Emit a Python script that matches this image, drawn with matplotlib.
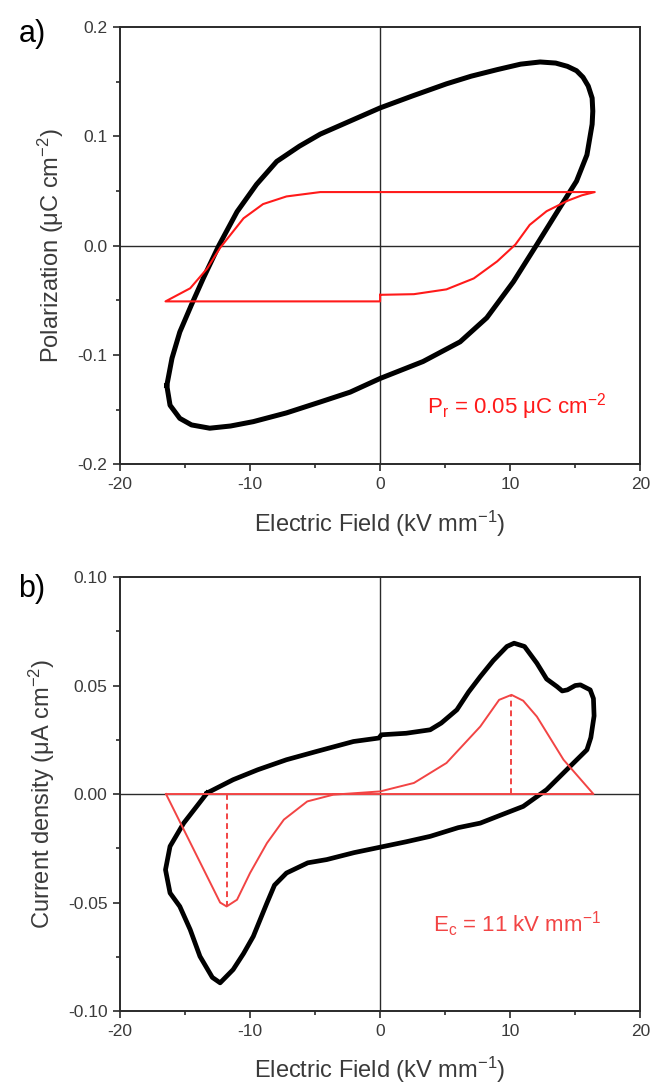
import matplotlib
matplotlib.use("Agg")
import matplotlib.pyplot as plt
from matplotlib.ticker import MultipleLocator

plt.rcParams['font.family'] = ['Liberation Sans', 'DejaVu Sans']
plt.rcParams['mathtext.fontset'] = 'custom'
plt.rcParams['mathtext.rm'] = 'Liberation Sans'
plt.rcParams['mathtext.it'] = 'Liberation Sans:italic'
plt.rcParams['axes.unicode_minus'] = False

# --- a) P-E loop, measured (black), one closed trace ---
pe_e = [-16.4, -16.0, -15.4, -14.5, -13.6, -12.4, -11.0, -9.5, -7.95, -6.2, -4.6, -2.3, 0.0,
        2.5, 5.1, 7.0, 9.0, 10.8, 12.3, 13.5, 14.4, 15.1, 15.6, 16.0, 16.3, 16.35, 16.3,
        15.9, 15.1, 13.8, 12.05, 10.25, 8.2, 6.15, 3.3, 0.0, -2.3, -4.6, -7.2, -9.75,
        -11.5, -13.1, -14.5, -15.4, -16.15, -16.4]
pe_p = [-0.128, -0.103, -0.079, -0.054, -0.030, 0.0, 0.031, 0.056, 0.077, 0.091, 0.102, 0.114,
        0.126, 0.137, 0.148, 0.155, 0.161, 0.166, 0.168, 0.167, 0.164, 0.160, 0.154, 0.146,
        0.135, 0.123, 0.111, 0.083, 0.059, 0.0345, 0.001, -0.033, -0.066, -0.088, -0.106,
        -0.1215, -0.134, -0.143, -0.153, -0.161, -0.165, -0.167, -0.164, -0.158, -0.146, -0.128]

# --- a) fitted loop (red) ---
pr_e = [0.0, 2.6, 5.1, 7.2, 9.0, 10.4, 11.5, 12.8, 14.4, 15.5, 16.5, 0.0, -4.6, -7.2, -9.0,
        -10.5, -11.5, -12.3, -13.3, -14.6, -16.5, 0.0, 0.0]
pr_p = [-0.045, -0.0444, -0.040, -0.030, -0.0144, 0.001, 0.019, 0.0315, 0.041, 0.046, 0.049,
        0.049, 0.049, 0.045, 0.038, 0.025, 0.010, -0.002, -0.021, -0.039, -0.051, -0.051, -0.045]

# --- b) current loop, measured (black) ---
j_e = [-13.3, -11.3, -9.4, -7.2, -4.9, -2.05, -0.1, 0.1, 2.0, 3.85, 4.7, 5.9, 6.8, 7.7, 8.7,
       9.75, 10.3, 11.1, 12.05, 12.8, 13.6, 14.0, 14.4, 15.0, 15.4, 16.15, 16.4, 16.45, 16.2,
       15.9, 14.6, 12.8, 11.0, 9.15, 7.7, 6.0, 3.85, 2.0, 0.0, -2.0, -4.1, -5.56, -7.2, -8.12,
       -8.7, -9.75, -10.5, -11.3, -12.3, -12.9, -13.85, -14.6, -15.4, -16.15, -16.5, -16.15,
       -15.1, -13.3]
j_j = [0.0005, 0.0066, 0.0112, 0.0158, 0.0196, 0.0242, 0.0258, 0.0273, 0.028, 0.0296, 0.0327,
       0.0388, 0.047, 0.0541, 0.0615, 0.068, 0.0695, 0.068, 0.0603, 0.053, 0.0495, 0.0475,
       0.048, 0.050, 0.0503, 0.048, 0.044, 0.036, 0.026, 0.0204, 0.0127, 0.002, -0.0057, -0.010,
       -0.0134, -0.0155, -0.0195, -0.022, -0.0245, -0.027, -0.0302, -0.0317, -0.0364, -0.042,
       -0.0502, -0.0656, -0.0735, -0.0809, -0.087, -0.0845, -0.0748, -0.0625, -0.0518, -0.0456,
       -0.0349, -0.0241, -0.0134, 0.0005]

# --- b) fitted current (red) ---
jr_e = [-16.46, -12.3, -11.8, -11.0, -10.0, -8.7, -7.4, -5.6, -3.6, 0.0, 2.6, 5.1, 7.7, 9.15,
        10.1, 11.0, 12.05, 14.1, 16.4, -16.46]
jr_j = [0.0, -0.050, -0.0518, -0.0487, -0.0364, -0.0226, -0.0118, -0.0034, -0.0003, 0.0012,
        0.0051, 0.0143, 0.0311, 0.0434, 0.0457, 0.043, 0.0357, 0.0158, 0.0, 0.0]
ec_neg = (-11.8, -0.0518)
ec_pos = (10.1, 0.0457)

spine_col = '#2a2a2a'
text_col = '#3a3a3a'
red = '#ff1a1a'
red_b = '#f24444'

fig = plt.figure(figsize=(6.52, 10.84), dpi=100)
ax1 = fig.add_axes([0.184, 0.5717, 0.798, 0.4034])
ax2 = fig.add_axes([0.184, 0.0673, 0.798, 0.4004])


def style(ax, ylim, major, ylabel):
    ax.set_xlim(-20, 20)
    ax.set_ylim(*ylim)
    ax.xaxis.set_major_locator(MultipleLocator(10))
    ax.xaxis.set_minor_locator(MultipleLocator(5))
    ax.yaxis.set_major_locator(MultipleLocator(major))
    ax.yaxis.set_minor_locator(MultipleLocator(major / 2))
    ax.tick_params(which='both', direction='out', top=False, right=False,
                   color=spine_col, width=1.2, labelsize=12.5, labelcolor=text_col)
    ax.tick_params(which='major', length=5, pad=4)
    ax.tick_params(which='minor', length=3)
    for s in ax.spines.values():
        s.set_color(spine_col)
        s.set_linewidth(1.4)
    ax.axhline(0, color=spine_col, lw=1.0, zorder=1)
    ax.axvline(0, color=spine_col, lw=1.0, zorder=1)
    ax.set_xlabel('Electric Field (kV mm$^{-1}$)', fontsize=17, color=text_col, labelpad=12)
    ax.set_ylabel(ylabel, fontsize=17, color=text_col, labelpad=8)


style(ax1, (-0.2, 0.2), 0.1, 'Polarization (μC cm$^{-2}$)')
ax1.yaxis.set_major_formatter(plt.FuncFormatter(lambda v, p: f'{v:.1f}'))
ax1.plot(pe_e, pe_p, color='black', lw=3.6, solid_joinstyle='round', zorder=3)
ax1.plot(pr_e, pr_p, color=red, lw=1.5, zorder=4)
ax1.text(10.5, -0.147, 'P$_\\mathrm{r}$ = 0.05 μC cm$^{-2}$', color=red, fontsize=16,
         ha='center', va='center')

style(ax2, (-0.10, 0.10), 0.05, 'Current density (μA cm$^{-2}$)')
ax2.yaxis.set_major_formatter(plt.FuncFormatter(lambda v, p: f'{v:.2f}'))
ax2.plot(j_e, j_j, color='black', lw=3.4, solid_joinstyle='round', zorder=3)
ax2.plot(jr_e, jr_j, color=red_b, lw=1.4, zorder=4)
for xe, yv in (ec_neg, ec_pos):
    ax2.plot([xe, xe], [0, yv], color=red_b, lw=1.4, ls=(0, (3, 2)), zorder=4)
ax2.text(10.5, -0.060, 'E$_\\mathrm{c}$ = 11 kV mm$^{-1}$', color=red_b, fontsize=16,
         ha='center', va='center')

fig.text(0.049, 0.969, 'a)', fontsize=22, color='black', ha='center', va='center')
fig.text(0.049, 0.457, 'b)', fontsize=22, color='black', ha='center', va='center')

fig.savefig('out.png', dpi=100)
